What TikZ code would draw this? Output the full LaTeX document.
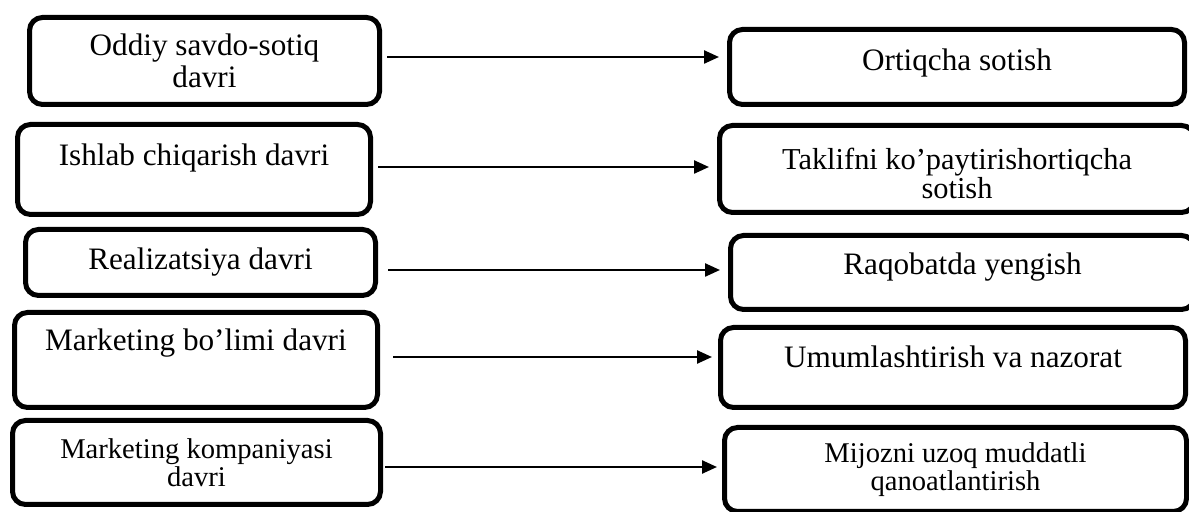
\documentclass[tikz,border=0pt]{standalone}
\usepackage{fontspec}
\setmainfont{Liberation Serif}
\usetikzlibrary{positioning, arrows.meta}

\begin{document}
\begin{tikzpicture}[
    x=0.5pt, y=-0.5pt,
    stage/.style={rectangle, draw, line width=2.5pt, rounded corners=6.5pt, align=center, inner sep=3pt, font=\fontsize{15.6pt}{16.3pt}\selectfont},
    result/.style={stage},
    smalltext/.style={font=\fontsize{14.3pt}{14.2pt}\selectfont},
    lift/.style={text depth=#1},
    flow/.style={-{Triangle[length=7.5pt, width=6.5pt]}, line width=1.2pt, shorten <=2.5pt, shorten >=4pt}
]
\useasboundingbox (0,0) rectangle (1189,512);

% Left column: periods
\node[stage, minimum width=175pt, minimum height=43.5pt] (oddiy) at (204.5,61) {Oddiy savdo-sotiq\\davri};
\node[stage, lift=15pt, minimum width=176.5pt, minimum height=45pt] (ishlab) at (194,169.5) {Ishlab chiqarish davri};
\node[stage, minimum width=175pt, minimum height=33pt] (realiz) at (200.5,262.5) {Realizatsiya davri};
\node[stage, lift=20pt, minimum width=181.5pt, minimum height=47.5pt] (bolim) at (196,360) {Marketing bo’limi davri};
\node[stage, smalltext, minimum width=184pt, minimum height=42pt] (kompan) at (196.5,462.5) {Marketing kompaniyasi\\davri};

% Right column: goals
\node[result, lift=7pt, minimum width=227.5pt, minimum height=37.5pt] (ortiq) at (957,67) {Ortiqcha sotish};
\node[result, font=\fontsize{15.2pt}{14.2pt}\selectfont, minimum width=237.5pt, minimum height=43.5pt] (taklif) at (957,169) {\rule{0pt}{15pt}Taklifni ko’paytirishortiqcha\\sotish};
\node[result, lift=9pt, minimum width=232pt, minimum height=37pt] (raqob) at (962.5,272.5) {Raqobatda yengish};
\node[result, lift=11pt, minimum width=232.5pt, minimum height=40pt] (umuml) at (953,367.5) {Umumlashtirish va nazorat};
\node[result, smalltext, minimum width=231pt, minimum height=42pt] (mijoz) at (955.5,469.5) {Mijozni uzoq muddatli\\qanoatlantirish};

% Connectors
\draw[flow] ([yshift=2pt]oddiy.east) -- ([yshift=2pt]oddiy.east -| ortiq.west);
\draw[flow] ([yshift=1.25pt]ishlab.east) -- ([yshift=1.25pt]ishlab.east -| taklif.west);
\draw[flow, shorten <=5pt] ([yshift=-3.75pt]realiz.east) -- ([yshift=-3.75pt]realiz.east -| raqob.west);
\draw[flow, shorten <=6.5pt, shorten >=3pt] ([yshift=1.5pt]bolim.east) -- ([yshift=1.5pt]bolim.east -| umuml.west);
\draw[flow, shorten <=1pt, shorten >=2.5pt] ([yshift=-2.25pt]kompan.east) -- ([yshift=-2.25pt]kompan.east -| mijoz.west);

\end{tikzpicture}
\end{document}
